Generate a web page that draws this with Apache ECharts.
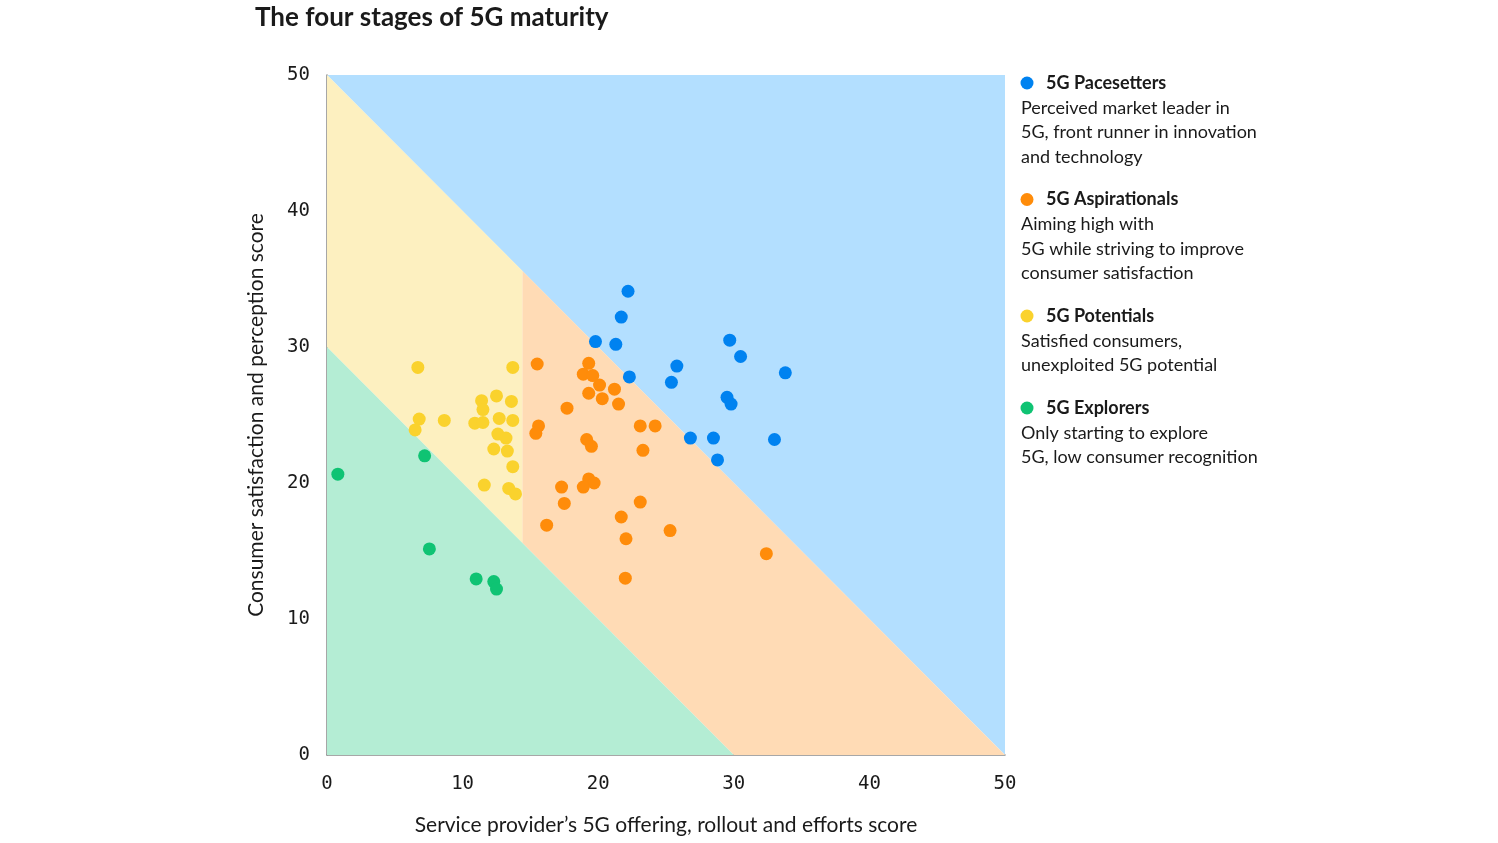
<!DOCTYPE html>
<html>
<head>
<meta charset="utf-8">
<title>The four stages of 5G maturity</title>
<script src="https://cdn.jsdelivr.net/npm/echarts@6/dist/echarts.min.js"></script>
<style>
  html, body { margin: 0; padding: 0; background: #fff; }
  #chart { width: 1498px; height: 843px; }
</style>
</head>
<body>
<div id="chart"></div>
<script>
'use strict';

// axis ticks
const xTicks = [0, 10, 20, 30, 40, 50];
const yTicks = [0, 10, 20, 30, 40, 50];

// x: offering/rollout score, y: satisfaction/perception score
const pacesetters = [
  [22.2, 34.1], [21.7, 32.2], [19.8, 30.4], [21.3, 30.2], [22.3, 27.8],
  [25.8, 28.6], [25.4, 27.4], [29.7, 30.5], [30.5, 29.3], [33.8, 28.1],
  [29.5, 26.3], [29.8, 25.8], [26.8, 23.3], [28.5, 23.3], [33.0, 23.2],
  [28.8, 21.7]
];
const aspirationals = [
  [15.5, 28.75], [19.3, 28.8], [18.9, 28.0], [19.6, 27.9], [20.1, 27.2],
  [21.2, 26.9], [19.3, 26.6], [20.3, 26.2], [21.5, 25.8], [17.7, 25.5],
  [15.6, 24.2], [15.4, 23.65], [23.1, 24.2], [24.2, 24.2], [19.15, 23.2],
  [19.5, 22.7], [23.3, 22.4], [19.3, 20.3], [19.7, 20.0], [18.9, 19.7],
  [17.3, 19.7], [17.5, 18.5], [23.1, 18.6], [16.2, 16.9], [21.7, 17.5],
  [25.3, 16.5], [22.05, 15.9], [22.0, 13.0], [32.4, 14.8]
];
const potentials = [
  [6.7, 28.5], [13.7, 28.5], [11.4, 26.05], [12.5, 26.4], [13.6, 26.0],
  [11.5, 25.4], [6.8, 24.7], [8.65, 24.6], [10.9, 24.4], [11.5, 24.45],
  [12.7, 24.75], [13.7, 24.6], [6.5, 23.9], [12.6, 23.6], [13.2, 23.3],
  [12.3, 22.5], [13.3, 22.35], [13.7, 21.2], [11.6, 19.85], [13.4, 19.6],
  [13.9, 19.2]
];
const explorers = [
  [0.8, 20.65], [7.2, 22.0], [7.55, 15.15], [11.0, 12.95], [12.3, 12.75],
  [12.5, 12.2]
];

// stage zones, corners in data units
const zonePacesetters = [[0, 50], [50, 50], [50, 0]];
const zoneAspirationals = [[14.4, 15.6], [14.4, 35.6], [50, 0], [30, 0]];
const zonePotentials = [[0, 30], [0, 50], [14.4, 35.6], [14.4, 15.6]];
const zoneExplorers = [[0, 0], [30, 0], [0, 30]];

const stages = [
  {
    name: '5G Pacesetters', color: '#0082f0', zoneColor: '#b3dfff',
    data: pacesetters, zone: zonePacesetters,
    desc: ['Perceived market leader in', '5G, front runner in innovation', 'and technology']
  },
  {
    name: '5G Aspirationals', color: '#ff8c0a', zoneColor: '#ffdbb5',
    data: aspirationals, zone: zoneAspirationals,
    desc: ['Aiming high with', '5G while striving to improve', 'consumer satisfaction']
  },
  {
    name: '5G Potentials', color: '#fad22d', zoneColor: '#fdf0c0',
    data: potentials, zone: zonePotentials,
    desc: ['Satisfied consumers,', 'unexploited 5G potential']
  },
  {
    name: '5G Explorers', color: '#0fc373', zoneColor: '#b4edd4',
    data: explorers, zone: zoneExplorers,
    desc: ['Only starting to explore', '5G, low consumer recognition']
  }
];

const textFont = 'Lato, "Noto Sans", sans-serif';
const monoFont = '"DejaVu Sans Mono", "Liberation Mono", monospace';

// legend block on the right, drawn as graphic text
function buildLegend() {
  const els = [];
  let y = 83;
  stages.forEach(s => {
    els.push({
      type: 'circle', shape: { cx: 1027, cy: y, r: 6.5 },
      style: { fill: s.color }
    });
    els.push({
      type: 'text', x: 1046, y: y,
      style: {
        text: s.name, fill: '#1a1a1a', font: 'bold 18px ' + textFont,
        textVerticalAlign: 'middle'
      }
    });
    let ly = y + 25;
    s.desc.forEach(line => {
      els.push({
        type: 'text', x: 1021, y: ly,
        style: {
          text: line, fill: '#1a1a1a', font: '18px ' + textFont,
          textVerticalAlign: 'middle'
        }
      });
      ly += 24.5;
    });
    y = ly - 24.5 + 42.5;
  });
  return els;
}

const zoneSeries = {
  type: 'custom',
  silent: true,
  z: 1,
  data: stages.map((s, i) => i),
  renderItem: function (params, api) {
    const s = stages[api.value(0)];
    return {
      type: 'polygon',
      shape: { points: s.zone.map(p => api.coord(p)) },
      style: { fill: s.zoneColor }
    };
  },
  encode: { x: -1, y: -1 }
};

const scatterSeries = stages.map(s => ({
  name: s.name,
  type: 'scatter',
  z: 3,
  symbolSize: 13,
  itemStyle: { color: s.color, opacity: 1 },
  data: s.data
}));

const chart = echarts.init(document.getElementById('chart'), null, { renderer: 'canvas' });

chart.setOption({
  animation: false,
  backgroundColor: '#ffffff',
  title: {
    text: 'The four stages of 5G maturity',
    left: 250, top: 0,
    textStyle: { fontFamily: textFont, fontWeight: 'bold', fontSize: 26, color: '#1a1a1a' }
  },
  grid: { left: 327, right: 493, top: 75, bottom: 88 },
  xAxis: {
    type: 'value',
    min: xTicks[0], max: xTicks[xTicks.length - 1], interval: 10,
    name: 'Service provider\u2019s 5G offering, rollout and efforts score',
    nameLocation: 'middle', nameGap: 60,
    nameTextStyle: { fontFamily: textFont, fontSize: 21, color: '#1a1a1a' },
    axisLine: { show: true, onZero: false, lineStyle: { color: '#8a8a8a', width: 1.5 } },
    axisTick: { show: false },
    splitLine: { show: false },
    axisLabel: { fontFamily: monoFont, fontSize: 19, color: '#1a1a1a', margin: 20 }
  },
  yAxis: {
    type: 'value',
    min: yTicks[0], max: yTicks[yTicks.length - 1], interval: 10,
    name: 'Consumer satisfaction and perception score',
    nameLocation: 'middle', nameGap: 60,
    nameTextStyle: { fontFamily: textFont, fontSize: 21, color: '#1a1a1a' },
    axisLine: { show: true, onZero: false, lineStyle: { color: '#8a8a8a', width: 1.5 } },
    axisTick: { show: false },
    splitLine: { show: false },
    axisLabel: { fontFamily: monoFont, fontSize: 19, color: '#1a1a1a', margin: 17 }
  },
  series: [zoneSeries].concat(scatterSeries),
  graphic: buildLegend()
});
</script>
</body>
</html>
